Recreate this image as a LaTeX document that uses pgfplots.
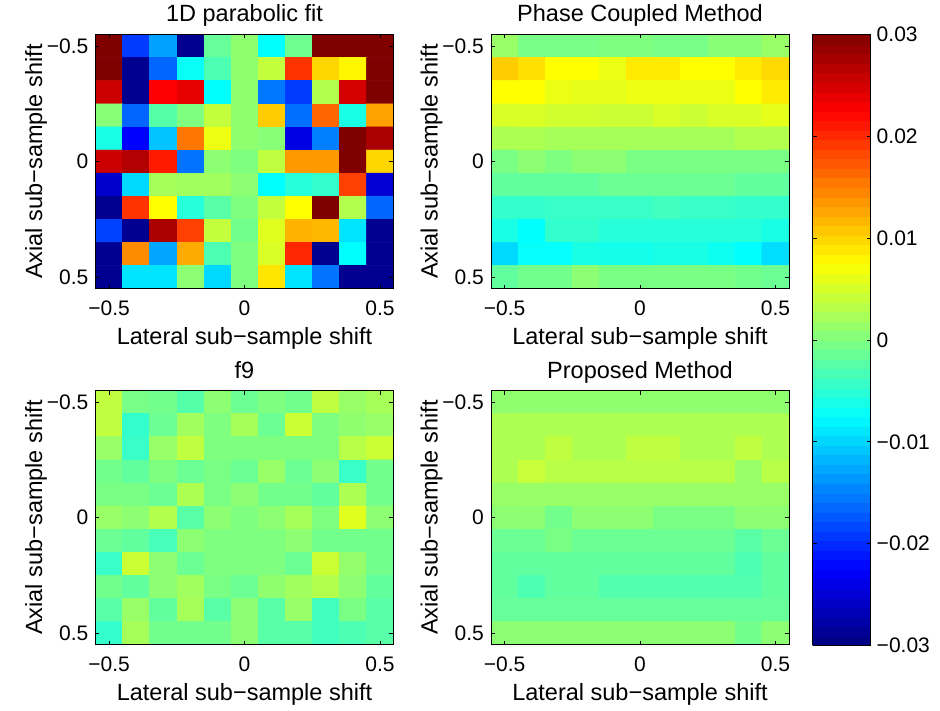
\documentclass[border=0pt]{standalone}
\usepackage{fontspec}
\setmainfont{Liberation Sans}
\usepackage{pgfplots}
\pgfplotsset{compat=1.18}
\usepackage{pgfplotstable}

% values in units of 0.001
\pgfplotstableread{
x y c
-0.5 -0.5 30
-0.4 -0.5 -19
-0.3 -0.5 -13
-0.2 -0.5 -29
-0.1 -0.5 -1.5
0 -0.5 1
0.1 -0.5 -7.5
0.2 -0.5 -1
0.3 -0.5 30
0.4 -0.5 30
0.5 -0.5 30
-0.5 -0.4 30
-0.4 -0.4 -29
-0.3 -0.4 -16.5
-0.2 -0.4 -7
-0.1 -0.4 -3
0 -0.4 1
0.1 -0.4 4
0.2 -0.4 19.5
0.3 -0.4 10
0.4 -0.4 8
0.5 -0.4 30
-0.5 -0.3 25.5
-0.4 -0.3 -29
-0.3 -0.3 22.5
-0.2 -0.3 24
-0.1 -0.3 -7.5
0 -0.3 1
0.1 -0.3 -15.5
0.2 -0.3 -19
0.3 -0.3 3
0.4 -0.3 25
0.5 -0.3 30
-0.5 -0.2 0.5
-0.4 -0.2 -16.5
-0.3 -0.2 -2.5
-0.2 -0.2 0
-0.1 -0.2 4
0 -0.2 1
0.1 -0.2 10.5
0.2 -0.2 -16
0.3 -0.2 16.5
0.4 -0.2 -6
0.5 -0.2 13
-0.5 -0.1 -6
-0.4 -0.1 -22.5
-0.3 -0.1 -11
-0.2 -0.1 15.5
-0.1 -0.1 6.5
0 -0.1 1
0.1 -0.1 0.5
0.2 -0.1 -24
0.3 -0.1 -15
0.4 -0.1 30
0.5 -0.1 27.5
-0.5 0 25.5
-0.4 0 27
-0.3 0 21
-0.2 0 -15.75
-0.1 0 0.75
0 0 0
0.1 0 3.75
0.2 0 13.5
0.3 0 13.5
0.4 0 30
0.5 0 10
-0.5 0.1 -25.5
-0.4 0.1 -9.75
-0.3 0.1 2.25
-0.2 0.1 2
-0.1 0.1 2
0 0.1 0.75
0.1 0.1 -7.5
0.2 0.1 -5.25
0.3 0.1 -4.5
0.4 0.1 18.75
0.5 0.1 -25
-0.5 0.2 -29
-0.4 0.2 19.5
-0.3 0.2 7.5
-0.2 0.2 -5.25
-0.1 0.2 -2.25
0 0.2 0
0.1 0.2 4
0.2 0.2 7.5
0.3 0.2 30
0.4 0.2 3
0.5 0.2 -16.5
-0.5 0.3 -18.75
-0.4 0.3 -29
-0.3 0.3 27.5
-0.2 0.3 18.75
-0.1 0.3 4
0 0.3 -0.75
0.1 0.3 5.75
0.2 0.3 12
0.3 0.3 11.75
0.4 0.3 -9
0.5 0.3 -29
-0.5 0.4 -29
-0.4 0.4 14.25
-0.3 0.4 -12.75
-0.2 0.4 12.5
-0.1 0.4 -3
0 0.4 0
0.1 0.4 5.25
0.2 0.4 20.25
0.3 0.4 -29
0.4 0.4 -7.5
0.5 0.4 -29
-0.5 0.5 -29
-0.4 0.5 -9
-0.3 0.5 -9
-0.2 0.5 0.75
-0.1 0.5 -9.75
0 0.5 0
0.1 0.5 9
0.2 0.5 -9
0.3 0.5 -15.75
0.4 0.5 -29
0.5 0.5 -29
}\tabA

\pgfplotstableread{
x y c
-0.5 -0.5 1.5
-0.4 -0.5 -0.5
-0.3 -0.5 -0.5
-0.2 -0.5 -0.5
-0.1 -0.5 0
0 -0.5 0
0.1 -0.5 -0.5
0.2 -0.5 -0.5
0.3 -0.5 0.5
0.4 -0.5 0.5
0.5 -0.5 1.5
-0.5 -0.4 10.5
-0.4 -0.4 9.3
-0.3 -0.4 7.5
-0.2 -0.4 7.5
-0.1 -0.4 6.3
0 -0.4 8.7
0.1 -0.4 8.7
0.2 -0.4 7.5
0.3 -0.4 7.5
0.4 -0.4 8.7
0.5 -0.4 9.75
-0.5 -0.3 7.5
-0.4 -0.3 7.5
-0.3 -0.3 6.3
-0.2 -0.3 6
-0.1 -0.3 6
0 -0.3 6.5
0.1 -0.3 6.5
0.2 -0.3 6.3
0.3 -0.3 6.3
0.4 -0.3 7.5
0.5 -0.3 8.7
-0.5 -0.2 5.25
-0.4 -0.2 5.25
-0.3 -0.2 4.8
-0.2 -0.2 4.8
-0.1 -0.2 4.5
0 -0.2 4.5
0.1 -0.2 5.25
0.2 -0.2 4.5
0.3 -0.2 5.25
0.4 -0.2 5.25
0.5 -0.2 6
-0.5 -0.1 2.7
-0.4 -0.1 2.7
-0.3 -0.1 2.25
-0.2 -0.1 2.25
-0.1 -0.1 2.25
0 -0.1 2.25
0.1 -0.1 2.25
0.2 -0.1 2.25
0.3 -0.1 2.25
0.4 -0.1 3
0.5 -0.1 3
-0.5 0 -0.3
-0.4 0 0.75
-0.3 0 0
-0.2 0 0.75
-0.1 0 0.75
0 0 -0.3
0.1 0 -0.3
0.2 0 -0.3
0.3 0 -0.3
0.4 0 -0.3
0.5 0 -0.3
-0.5 0.1 -1.8
-0.4 0.1 -1.8
-0.3 0.1 -1.8
-0.2 0.1 -1.8
-0.1 0.1 -1.2
0 0.1 -1.2
0.1 0.1 -1.2
0.2 0.1 -1.2
0.3 0.1 -1.2
0.4 0.1 -1.8
0.5 0.1 -1.8
-0.5 0.2 -4.5
-0.4 0.2 -4.5
-0.3 0.2 -4.2
-0.2 0.2 -4.2
-0.1 0.2 -4.2
0 0.2 -4.2
0.1 0.2 -3.75
0.2 0.2 -4.2
0.3 0.2 -4.2
0.4 0.2 -4.5
0.5 0.2 -4.5
-0.5 0.3 -6
-0.4 0.3 -7.5
-0.3 0.3 -4.5
-0.2 0.3 -4.5
-0.1 0.3 -5.25
0 0.3 -5.25
0.1 0.3 -5.25
0.2 0.3 -5.25
0.3 0.3 -5.25
0.4 0.3 -5.25
0.5 0.3 -6
-0.5 0.4 -9.75
-0.4 0.4 -7.2
-0.3 0.4 -7.2
-0.2 0.4 -6
-0.1 0.4 -6.3
0 0.4 -6.3
0.1 0.4 -6
0.2 0.4 -6
0.3 0.4 -6.75
0.4 0.4 -7.5
0.5 0.4 -9.5
-0.5 0.5 -1.8
-0.4 0.5 -0.75
-0.3 0.5 -0.75
-0.2 0.5 0.75
-0.1 0.5 -0.3
0 0.5 -0.3
0.1 0.5 -0.3
0.2 0.5 -0.3
0.3 0.5 -0.3
0.4 0.5 -0.75
0.5 0.5 -1.2
}\tabB

\pgfplotstableread{
x y c
-0.5 -0.5 3.75
-0.4 -0.5 -0.5
-0.3 -0.5 -0.75
-0.2 -0.5 -2.5
-0.1 -0.5 0.75
0 -0.5 -1.2
0.1 -0.5 0
0.2 -0.5 -0.75
0.3 -0.5 3.75
0.4 -0.5 1.5
0.5 -0.5 2.25
-0.5 -0.4 3.75
-0.4 -0.4 -4.5
-0.3 -0.4 -1.2
-0.2 -0.4 2
-0.1 -0.4 0
0 -0.4 2.25
0.1 -0.4 -1.2
0.2 -0.4 4.5
0.3 -0.4 0
0.4 -0.4 1
0.5 -0.4 1.5
-0.5 -0.3 1.5
-0.4 -0.3 -4.2
-0.3 -0.3 1.5
-0.2 -0.3 3.75
-0.1 -0.3 0
0 -0.3 0
0.1 -0.3 0
0.2 -0.3 0
0.3 -0.3 0
0.4 -0.3 3.3
0.5 -0.3 4.5
-0.5 -0.2 -0.75
-0.4 -0.2 -1.8
-0.3 -0.2 0
-0.2 -0.2 -1.2
-0.1 -0.2 -0.3
0 -0.2 -1.2
0.1 -0.2 1.5
0.2 -0.2 -1.2
0.3 -0.2 0.75
0.4 -0.2 -4.2
0.5 -0.2 -0.75
-0.5 -0.1 -0.3
-0.4 -0.1 -0.3
-0.3 -0.1 -1.2
-0.2 -0.1 2.7
-0.1 -0.1 -0.3
0 -0.1 0.75
0.1 -0.1 -0.75
0.2 -0.1 -0.75
0.3 -0.1 -1.8
0.4 -0.1 2.7
0.5 -0.1 -0.75
-0.5 0 1.5
-0.4 0 0.75
-0.3 0 3
-0.2 0 -2.25
-0.1 0 0.75
0 0 0
0.1 0 0.75
0.2 0 2.25
0.3 0 0
0.4 0 5.7
0.5 0 0.75
-0.5 0.1 -1.2
-0.4 0.1 -1.8
-0.3 0.1 -3.3
-0.2 0.1 0.75
-0.1 0.1 0
0 0.1 0
0.1 0.1 0
0.2 0.1 0.75
0.3 0.1 -0.75
0.4 0.1 -0.75
0.5 0.1 -0.75
-0.5 0.2 -4.2
-0.4 0.2 4.5
-0.3 0.2 0.75
-0.2 0.2 -1.2
-0.1 0.2 0
0 0.2 0
0.1 0.2 0
0.2 0.2 -1.2
0.3 0.2 4.5
0.4 0.2 1.2
0.5 0.2 -0.75
-0.5 0.3 -0.75
-0.4 0.3 -1.8
-0.3 0.3 0.75
-0.2 0.3 2
-0.1 0.3 -0.3
0 0.3 -1.2
0.1 0.3 1
0.2 0.3 2
0.3 0.3 3
0.4 0.3 0.75
0.5 0.3 -1.8
-0.5 0.4 -2.25
-0.4 0.4 1.5
-0.3 0.4 -1.8
-0.2 0.4 2.25
-0.1 0.4 -2.25
0 0.4 0.75
0.1 0.4 -2.25
0.2 0.4 1.5
0.3 0.4 -3.75
0.4 0.4 -0.3
0.5 0.4 -2.25
-0.5 0.5 -4.5
-0.4 0.5 2.25
-0.3 0.5 -0.75
-0.2 0.5 -0.75
-0.1 0.5 -0.75
0 0.5 0.75
0.1 0.5 -2.25
0.2 0.5 -2.25
0.3 0.5 -3.75
0.4 0.5 -3
0.5 0.5 -2.25
}\tabC

\pgfplotstableread{
x y c
-0.5 -0.5 1
-0.4 -0.5 1
-0.3 -0.5 1
-0.2 -0.5 1
-0.1 -0.5 1
0 -0.5 1
0.1 -0.5 1
0.2 -0.5 1
0.3 -0.5 1
0.4 -0.5 1
0.5 -0.5 1
-0.5 -0.4 2.7
-0.4 -0.4 2.7
-0.3 -0.4 2.7
-0.2 -0.4 2.7
-0.1 -0.4 2.7
0 -0.4 2.7
0.1 -0.4 2.7
0.2 -0.4 2.7
0.3 -0.4 2.7
0.4 -0.4 2.7
0.5 -0.4 2.7
-0.5 -0.3 2.7
-0.4 -0.3 2.7
-0.3 -0.3 3.75
-0.2 -0.3 2.7
-0.1 -0.3 2.7
0 -0.3 3.75
0.1 -0.3 3.75
0.2 -0.3 2.7
0.3 -0.3 2.7
0.4 -0.3 3.75
0.5 -0.3 2.7
-0.5 -0.2 2.7
-0.4 -0.2 4.2
-0.3 -0.2 3.3
-0.2 -0.2 3.3
-0.1 -0.2 3.3
0 -0.2 3.3
0.1 -0.2 3.3
0.2 -0.2 3.3
0.3 -0.2 3.3
0.4 -0.2 1.5
0.5 -0.2 3.3
-0.5 -0.1 1.5
-0.4 -0.1 1.5
-0.3 -0.1 1.5
-0.2 -0.1 1.5
-0.1 -0.1 1.5
0 -0.1 1.5
0.1 -0.1 1.5
0.2 -0.1 1.5
0.3 -0.1 1.5
0.4 -0.1 1.5
0.5 -0.1 1.5
-0.5 0 0.75
-0.4 0 0.75
-0.3 0 -0.75
-0.2 0 0.75
-0.1 0 0.75
0 0 0.75
0.1 0 -0.3
0.2 0 -0.3
0.3 0 -0.3
0.4 0 0.75
0.5 0 0.75
-0.5 0.1 -1.2
-0.4 0.1 -1.2
-0.3 0.1 -0.3
-0.2 0.1 -1.2
-0.1 0.1 -1.2
0 0.1 -1.2
0.1 0.1 -1.2
0.2 0.1 -1.2
0.3 0.1 -1.2
0.4 0.1 -2.25
0.5 0.1 -1.2
-0.5 0.2 -1.8
-0.4 0.2 -1.8
-0.3 0.2 -1.8
-0.2 0.2 -1.8
-0.1 0.2 -1.8
0 0.2 -1.8
0.1 0.2 -1.8
0.2 0.2 -1.8
0.3 0.2 -1.8
0.4 0.2 -3
0.5 0.2 -1.8
-0.5 0.3 -1.8
-0.4 0.3 -3
-0.3 0.3 -1.8
-0.2 0.3 -1.8
-0.1 0.3 -2.7
0 0.3 -2.7
0.1 0.3 -2.7
0.2 0.3 -2.7
0.3 0.3 -2.7
0.4 0.3 -2.7
0.5 0.3 -1.8
-0.5 0.4 -1.5
-0.4 0.4 -1.5
-0.3 0.4 -1.5
-0.2 0.4 -1.5
-0.1 0.4 -1.5
0 0.4 -1.5
0.1 0.4 -1.5
0.2 0.4 -1.5
0.3 0.4 -1.5
0.4 0.4 -1.5
0.5 0.4 -1.5
-0.5 0.5 0.75
-0.4 0.5 0.75
-0.3 0.5 0.75
-0.2 0.5 0.75
-0.1 0.5 0.75
0 0.5 0.75
0.1 0.5 0.75
0.2 0.5 0.75
0.3 0.5 0.75
0.4 0.5 -0.75
0.5 0.5 0.75
}\tabD

\pgfplotsset{
  colormap={myjet}{rgb(0pt)=(0,0,0.5) rgb(1pt)=(0,0,1) rgb(3pt)=(0,1,1) rgb(5pt)=(1,1,0) rgb(7pt)=(1,0,0) rgb(8pt)=(0.5,0,0)},
  hm/.style={
    scale only axis, width=298pt, height=254pt,
    xmin=-0.55, xmax=0.55, ymin=-0.55, ymax=0.55, y dir=reverse,
    enlargelimits=false, axis on top,
    xtick={-0.5,0,0.5}, ytick={-0.5,0,0.5},
    xticklabels={−0.5,0,0.5}, yticklabels={−0.5,0,0.5},
    tick align=inside, major tick length=4pt,
    axis line style={line width=0.9pt},
    every tick/.style={line width=0.9pt, black},
    /pgf/number format/assume math mode=true,
    ticklabel style={font=\fontsize{21}{25}\selectfont},
    xticklabel style={anchor=base, yshift=-27pt},
    title style={font=\fontsize{23.5}{28}\selectfont, at={(axis description cs:0.5,1)}, anchor=base, yshift=6.5pt},
    xlabel style={font=\fontsize{23.5}{28}\selectfont, at={(axis description cs:0.5,0)}, anchor=base, yshift=-56pt},
    ylabel style={font=\fontsize{23.5}{28}\selectfont, at={(axis description cs:-0.1795,0.5)}, anchor=base},
    xlabel={Lateral sub−sample shift}, ylabel={Axial sub−sample shift},
    colormap name=myjet, point meta min=-30, point meta max=30,
  },
  hmplot/.style={matrix plot*, mesh/cols=11, point meta=explicit},
}

\begin{document}
\fontsize{21}{25}\selectfont
\begin{tikzpicture}
\useasboundingbox (0,0) rectangle (940pt,710pt);
\begin{axis}[hm, at={(95.5pt,675.5pt)}, anchor=north west, title={1D parabolic fit}]
\addplot[hmplot] table[x=x, y=y, meta=c] {\tabA};
\end{axis}
\begin{axis}[hm, at={(491pt,675.5pt)}, anchor=north west, title={Phase Coupled Method},
  colorbar, colorbar sampled,
  colorbar style={at={(parent axis.north east)}, anchor=north west, xshift=15pt, yshift=0pt,
    scale only axis, width=58pt, height=611pt, samples=65,
    ytick={-30,-20,-10,0,10,20,30},
    yticklabels={−0.03,−0.02,−0.01,0,0.01,0.02,0.03},
    yticklabel style={font=\fontsize{21}{25}\selectfont, anchor=west, xshift=-1pt},
    tick align=inside, major tick length=4pt, ytick pos=both, yticklabel pos=right,
    axis line style={line width=0.9pt},
    every tick/.style={line width=0.9pt, black},
    /pgf/number format/assume math mode=true}]
\addplot[hmplot] table[x=x, y=y, meta=c] {\tabB};
\end{axis}
\begin{axis}[hm, at={(95.5pt,319.5pt)}, anchor=north west, title={f9}]
\addplot[hmplot] table[x=x, y=y, meta=c] {\tabC};
\end{axis}
\begin{axis}[hm, at={(491pt,319.5pt)}, anchor=north west, title={Proposed Method}]
\addplot[hmplot] table[x=x, y=y, meta=c] {\tabD};
\end{axis}
\end{tikzpicture}
\end{document}
